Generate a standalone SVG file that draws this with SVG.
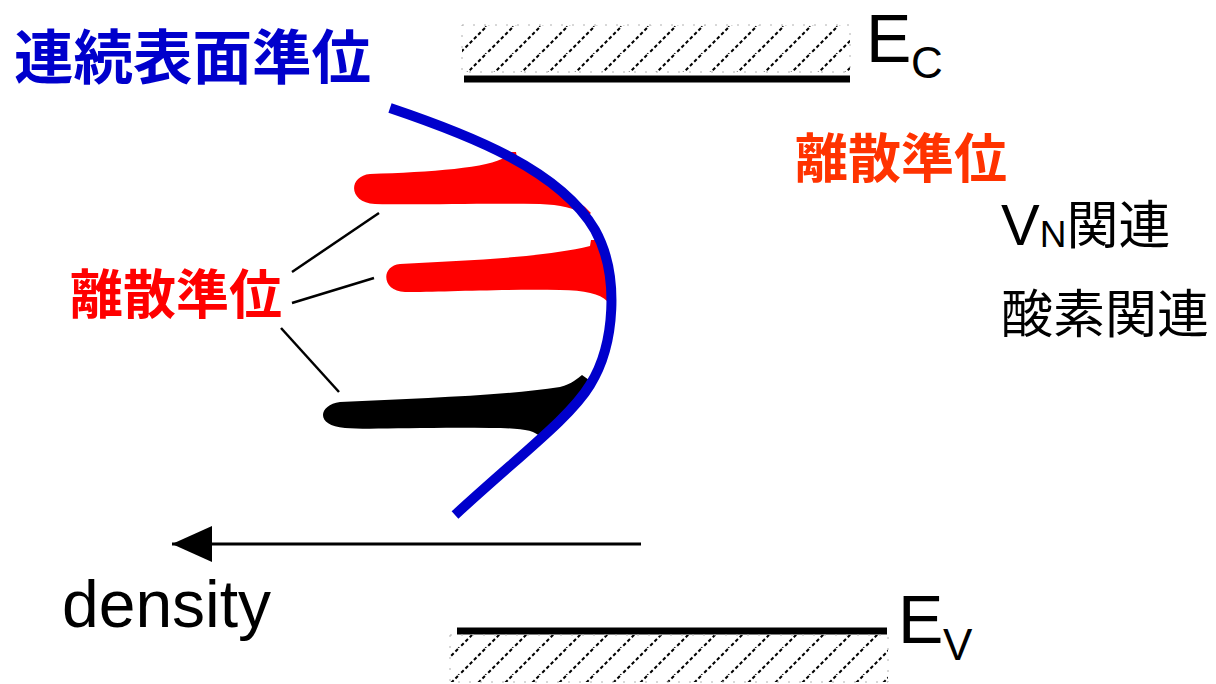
<svg xmlns="http://www.w3.org/2000/svg" width="1216" height="684" viewBox="0 0 1216 684">
<style>
.cjk{font-family:"Noto Sans CJK JP","Noto Sans CJK SC",sans-serif}
.lat{font-family:"Liberation Sans",Arial,sans-serif}
.band{stroke:#000;stroke-width:7}
.box{fill:url(#hatch);stroke:#b0b0b0;stroke-width:1;stroke-dasharray:2 9}
.leader{stroke:#000;stroke-width:2.5;fill:none}
</style>
<defs>
<pattern id="hatch" patternUnits="userSpaceOnUse" width="27" height="27">
<g stroke="#000" stroke-width="2" stroke-dasharray="3.5 2.5">
<line x1="-2" y1="29" x2="29" y2="-2"/>
<line x1="-29" y1="29" x2="2" y2="-2"/>
<line x1="25" y1="29" x2="56" y2="-2"/>
</g>
</pattern>
<marker id="arrowhead" markerUnits="userSpaceOnUse" markerWidth="42" markerHeight="36" refX="40" refY="18" orient="auto">
<path d="M0,0 L40,18 L0,36 Z" fill="#000"/>
</marker>
</defs>
<rect width="1216" height="684" fill="#fff"/>

<g id="conduction-band">
<rect class="box" x="462" y="25" width="388" height="47"/>
<line class="band" x1="464" y1="79" x2="850" y2="79"/>
<text class="lat" x="866" y="62" font-size="68">E</text>
<text class="lat" x="911" y="78" font-size="44">C</text>
</g>

<g id="valence-band">
<line class="band" x1="457" y1="631" x2="887" y2="631"/>
<rect class="box" x="450" y="635" width="438" height="47"/>
<text class="lat" x="898" y="643" font-size="68">E</text>
<text class="lat" x="943" y="660" font-size="44">V</text>
</g>

<g id="continuous-label">
<text class="cjk" x="14" y="79" font-size="59.5" font-weight="bold" fill="#0000CC">連続表面準位</text>
</g>

<g id="blob-upper">
<path fill="#FF0000" d="M370,174 C430,172 490,168 505,157 L507,152 L516,152 L517,158 L585,207 L591,213 L586,217 C575,207 560,205 540,204 C480,203 420,205 375,204 C348,203 348,176 370,174 Z"/>
</g>
<g id="blob-middle">
<path fill="#FF0000" d="M400,264 C470,260 540,258 590,246 L591,240 L602,240 L603,246 L612,296 L607,301 C600,294 585,290 560,290 C500,289 440,292 405,292 C382,292 380,266 400,264 Z"/>
</g>
<g id="blob-lower">
<path fill="#000" d="M340,402 C420,398 500,396 560,387 C572,384 578,378 582,375 L589,380 L585,386 L545,440 L540,437 C535,430 520,428 490,428 C420,427 370,430 345,428 C315,426 318,405 340,402 Z"/>
</g>

<g id="surface-curve">
<path d="M390,108 C470,135 560,170 595,230 C620,275 615,345 590,385 C570,418 520,455 455,515" fill="none" stroke="#0000CC" stroke-width="10"/>
</g>

<g id="discrete-label-left">
<text class="cjk" x="70" y="314" font-size="53" font-weight="bold" fill="#FF0000">離散準位</text>
</g>

<g id="discrete-label-right">
<text class="cjk" x="795" y="178" font-size="53" font-weight="bold" fill="#FF3300">離散準位</text>
</g>

<g id="vn-label">
<text x="1001" y="245" fill="#000"><tspan class="lat" font-size="58">V</tspan><tspan class="lat" font-size="37" dy="2">N</tspan><tspan class="cjk" font-size="52" dy="-3">関連</tspan></text>
</g>

<g id="oxygen-label">
<text class="cjk" x="1001" y="333" font-size="52" fill="#000">酸素関連</text>
</g>

<g id="density-label">
<text class="lat" x="62" y="627" font-size="66" fill="#000">density</text>
</g>

<g id="connectors">
<line class="leader" x1="292" y1="272" x2="379" y2="213"/>
<line class="leader" x1="292" y1="303" x2="374" y2="278"/>
<line class="leader" x1="281" y1="328" x2="339" y2="392"/>
<line x1="641" y1="544" x2="172" y2="544" stroke="#000" stroke-width="3" marker-end="url(#arrowhead)"/>
</g>
</svg>
